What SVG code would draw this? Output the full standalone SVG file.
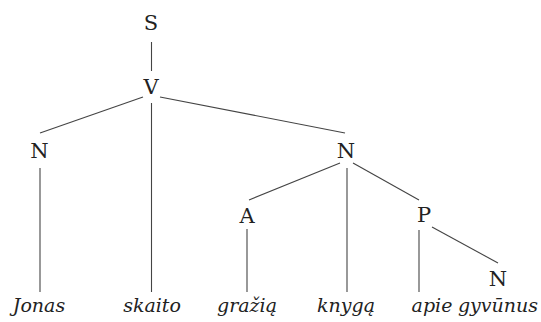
<svg xmlns="http://www.w3.org/2000/svg" width="541" height="322" viewBox="0 0 541 322">
<style>
.edge{stroke:#444;stroke-width:1.1;fill:none}
.cat{font-family:"DejaVu Serif","Liberation Serif",serif;font-size:21px;fill:#222;text-anchor:middle}
.word{font-family:"DejaVu Serif","Liberation Serif",serif;font-style:italic;font-size:19px;fill:#222;text-anchor:middle}
</style>
<rect width="541" height="322" fill="#fff"/>
<g id="connectors">
<line class="edge" x1="151.5" y1="42" x2="151.5" y2="71"/>
<line class="edge" x1="143" y1="97" x2="40" y2="133"/>
<line class="edge" x1="151.5" y1="103" x2="151.5" y2="292"/>
<line class="edge" x1="160" y1="97" x2="345" y2="133"/>
<line class="edge" x1="40" y1="168" x2="40" y2="292"/>
<line class="edge" x1="340" y1="163" x2="249" y2="200"/>
<line class="edge" x1="347" y1="168" x2="347" y2="292"/>
<line class="edge" x1="353" y1="163" x2="419" y2="200"/>
<line class="edge" x1="247" y1="229" x2="247" y2="292"/>
<line class="edge" x1="419" y1="230" x2="419" y2="292"/>
<line class="edge" x1="432" y1="227" x2="498" y2="263"/>
</g>
<g id="S"><text class="cat" x="151" y="30">S</text></g>
<g id="V"><text class="cat" x="151" y="94">V</text></g>
<g id="N1"><text class="cat" x="39.5" y="158">N</text></g>
<g id="N2"><text class="cat" x="346" y="158">N</text></g>
<g id="A"><text class="cat" x="247" y="223">A</text></g>
<g id="P"><text class="cat" x="424" y="222">P</text></g>
<g id="N3"><text class="cat" x="498" y="286">N</text></g>
<g id="Jonas"><text class="word" x="39" y="312">Jonas</text></g>
<g id="skaito"><text class="word" x="152" y="312">skaito</text></g>
<g id="graziq"><text class="word" x="247" y="312">gražią</text></g>
<g id="knyga"><text class="word" x="346" y="312">knygą</text></g>
<g id="apie"><text class="word" x="432" y="312">apie</text></g>
<g id="gyvunus"><text class="word" x="498" y="312">gyvūnus</text></g>
</svg>
